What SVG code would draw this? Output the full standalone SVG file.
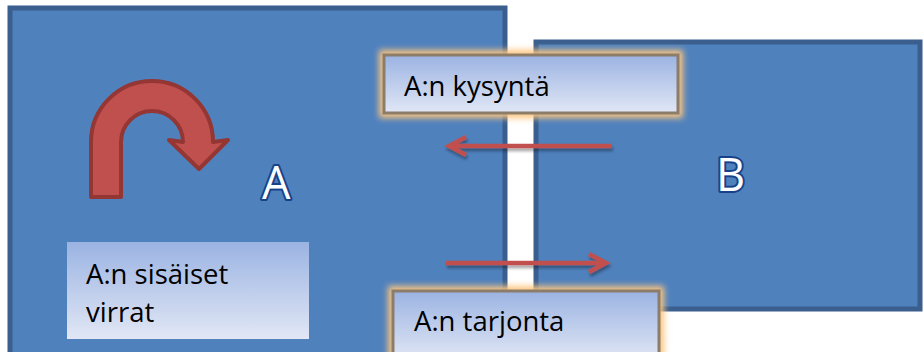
<svg xmlns="http://www.w3.org/2000/svg" width="924" height="352" viewBox="0 0 924 352">
<style>
.box{fill:#4f81bd;stroke:#3a5f8e;stroke-width:5}
.lbl{font-family:"Open Sans",sans-serif;font-size:27.5px;fill:#000}
.big{font-family:"Open Sans",sans-serif;font-size:45px;fill:#fff;stroke:#17428a;stroke-width:4;paint-order:stroke;stroke-linejoin:round}
.tb{fill:url(#grad)}
.tbb{fill:url(#grad);stroke:#8c7c6a;stroke-width:3}
.glow{fill:none;stroke:#fcc57e;stroke-width:10;filter:url(#blur)}
.arr{fill:none;stroke:#c0504d;stroke-width:4.5}
</style>
<defs>
<linearGradient id="grad" x1="0" y1="0" x2="0" y2="1">
<stop offset="0" stop-color="#9bb3e2"/>
<stop offset="1" stop-color="#e1e7f5"/>
</linearGradient>
<filter id="blur" x="-20%" y="-50%" width="140%" height="200%"><feGaussianBlur stdDeviation="3"/></filter>
<filter id="sh" filterUnits="userSpaceOnUse" x="0" y="0" width="924" height="352"><feGaussianBlur in="SourceAlpha" stdDeviation="1.5"/><feOffset dx="1" dy="3"/><feComponentTransfer><feFuncA type="linear" slope="0.35"/></feComponentTransfer><feMerge><feMergeNode/><feMergeNode in="SourceGraphic"/></feMerge></filter>
</defs>
<rect width="924" height="352" fill="#fff"/>
<g id="nodeA">
<rect class="box" x="10" y="8" width="495" height="350"/>
<path d="M91,197 L91,142 A61,61 0 0 1 213,142 L228,140 L199,169 L169,140 L183,142 A31,31 0 0 0 121,142 L121,197 Z" fill="#c0504d" stroke="#943634" stroke-width="4" stroke-linejoin="round"/>
<text class="big" x="262" y="199">A</text>
</g>
<g id="nodeB">
<rect class="box" x="536" y="42" width="384" height="267"/>
<text class="big" x="716" y="191">B</text>
</g>
<g id="connectors" filter="url(#sh)">
<path class="arr" d="M612,146 L449,146 M466,137 L449,146 L466,155"/>
<path class="arr" d="M446,263 L606,263 M589,254 L606,263 L589,272"/>
</g>
<g id="kysynta">
<rect class="glow" x="384" y="55" width="294" height="58"/>
<rect class="tbb" x="384" y="55" width="294" height="58"/>
<text class="lbl" x="404" y="96">A:n kysyntä</text>
</g>
<g id="tarjonta">
<rect class="glow" x="393" y="291" width="266" height="70"/>
<rect class="tbb" x="393" y="291" width="266" height="70"/>
<text class="lbl" x="414" y="331">A:n tarjonta</text>
</g>
<g id="sisaiset">
<rect class="tb" x="67" y="242" width="242" height="97"/>
<text class="lbl" x="86" y="284">A:n sisäiset</text>
<text class="lbl" x="86" y="322">virrat</text>
</g>
</svg>
